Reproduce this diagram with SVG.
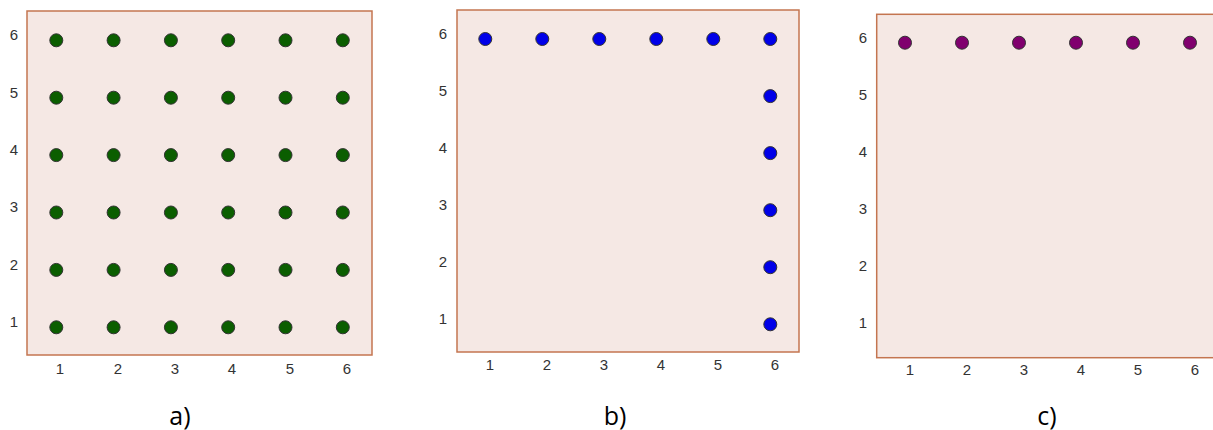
<svg xmlns="http://www.w3.org/2000/svg" width="1213" height="430" viewBox="0 0 1213 430">
<style>
.box{fill:#F5E8E4;stroke:#C47550;stroke-width:1.5}
.ax{font-family:"Liberation Sans",Arial,sans-serif;font-size:15px;fill:#333;text-anchor:middle}
.cap{font-family:"Open Sans","Liberation Sans",sans-serif;font-size:25px;fill:#000;text-anchor:middle}
.g{fill:#0B5E00;stroke:#333;stroke-width:1}
.b{fill:#0000E8;stroke:#333;stroke-width:1}
.p{fill:#80006E;stroke:#333;stroke-width:1}
</style>
<rect width="1213" height="430" fill="#fff"/>
<g id="panel-a">
<rect class="box" x="27" y="11" width="345" height="344"/>
<g class="ax">
<text x="14" y="327">1</text><text x="14" y="270">2</text><text x="14" y="212">3</text><text x="14" y="155">4</text><text x="14" y="98">5</text><text x="14" y="40">6</text>
<text x="60" y="374">1</text><text x="118" y="374">2</text><text x="175" y="374">3</text><text x="232" y="374">4</text><text x="290" y="374">5</text><text x="347" y="374">6</text>
</g>
<g class="g">
<circle cx="56.3" cy="40.3" r="6.5"/><circle cx="113.6" cy="40.3" r="6.5"/><circle cx="170.9" cy="40.3" r="6.5"/><circle cx="228.2" cy="40.3" r="6.5"/><circle cx="285.5" cy="40.3" r="6.5"/><circle cx="342.8" cy="40.3" r="6.5"/>
<circle cx="56.3" cy="97.7" r="6.5"/><circle cx="113.6" cy="97.7" r="6.5"/><circle cx="170.9" cy="97.7" r="6.5"/><circle cx="228.2" cy="97.7" r="6.5"/><circle cx="285.5" cy="97.7" r="6.5"/><circle cx="342.8" cy="97.7" r="6.5"/>
<circle cx="56.3" cy="155.1" r="6.5"/><circle cx="113.6" cy="155.1" r="6.5"/><circle cx="170.9" cy="155.1" r="6.5"/><circle cx="228.2" cy="155.1" r="6.5"/><circle cx="285.5" cy="155.1" r="6.5"/><circle cx="342.8" cy="155.1" r="6.5"/>
<circle cx="56.3" cy="212.5" r="6.5"/><circle cx="113.6" cy="212.5" r="6.5"/><circle cx="170.9" cy="212.5" r="6.5"/><circle cx="228.2" cy="212.5" r="6.5"/><circle cx="285.5" cy="212.5" r="6.5"/><circle cx="342.8" cy="212.5" r="6.5"/>
<circle cx="56.3" cy="269.9" r="6.5"/><circle cx="113.6" cy="269.9" r="6.5"/><circle cx="170.9" cy="269.9" r="6.5"/><circle cx="228.2" cy="269.9" r="6.5"/><circle cx="285.5" cy="269.9" r="6.5"/><circle cx="342.8" cy="269.9" r="6.5"/>
<circle cx="56.3" cy="327.3" r="6.5"/><circle cx="113.6" cy="327.3" r="6.5"/><circle cx="170.9" cy="327.3" r="6.5"/><circle cx="228.2" cy="327.3" r="6.5"/><circle cx="285.5" cy="327.3" r="6.5"/><circle cx="342.8" cy="327.3" r="6.5"/>
</g>
<text class="cap" x="180" y="425">a)</text>
</g>
<g id="panel-b">
<rect class="box" x="457" y="10" width="342" height="342"/>
<g class="ax">
<text x="443" y="324">1</text><text x="443" y="267">2</text><text x="443" y="210">3</text><text x="443" y="153">4</text><text x="443" y="96">5</text><text x="443" y="39">6</text>
<text x="490" y="370">1</text><text x="547" y="370">2</text><text x="604" y="370">3</text><text x="661" y="370">4</text><text x="718" y="370">5</text><text x="775" y="370">6</text>
</g>
<g class="b">
<circle cx="485.3" cy="39" r="6.5"/><circle cx="542.3" cy="39" r="6.5"/><circle cx="599.3" cy="39" r="6.5"/><circle cx="656.3" cy="39" r="6.5"/><circle cx="713.3" cy="39" r="6.5"/><circle cx="770.3" cy="39" r="6.5"/>
<circle cx="770.3" cy="96.1" r="6.5"/><circle cx="770.3" cy="153.1" r="6.5"/><circle cx="770.3" cy="210.2" r="6.5"/><circle cx="770.3" cy="267.2" r="6.5"/><circle cx="770.3" cy="324.3" r="6.5"/>
</g>
<text class="cap" x="615" y="425">b)</text>
</g>
<g id="panel-c">
<rect class="box" x="876.7" y="14.3" width="345" height="343.4"/>
<g class="ax">
<text x="863" y="328">1</text><text x="863" y="271">2</text><text x="863" y="214">3</text><text x="863" y="157">4</text><text x="863" y="100">5</text><text x="863" y="43">6</text>
<text x="910" y="375">1</text><text x="967" y="375">2</text><text x="1024" y="375">3</text><text x="1081" y="375">4</text><text x="1138" y="375">5</text><text x="1195" y="375">6</text>
</g>
<g class="p">
<circle cx="905" cy="42.7" r="6.5"/><circle cx="962" cy="42.7" r="6.5"/><circle cx="1019" cy="42.7" r="6.5"/><circle cx="1076" cy="42.7" r="6.5"/><circle cx="1133" cy="42.7" r="6.5"/><circle cx="1190" cy="42.7" r="6.5"/>
</g>
<text class="cap" x="1047" y="425">c)</text>
</g>
</svg>
